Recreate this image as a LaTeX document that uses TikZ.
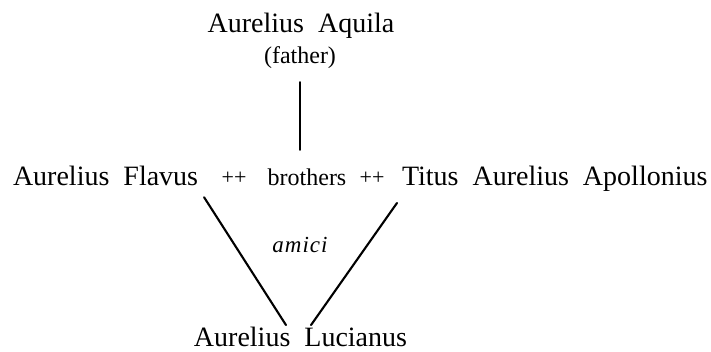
\documentclass[tikz,border=0pt]{standalone}
\usepackage{fontspec}
\setmainfont{Liberation Serif}
\begin{document}
\begin{tikzpicture}[x=1pt,y=1pt,
  person/.style={font=\fontsize{28}{30}\selectfont, inner sep=0pt, outer sep=0pt, anchor=base},
  note/.style={font=\fontsize{24}{26}\selectfont, inner sep=0pt, outer sep=0pt, anchor=base},
  plus/.style={font=\fontsize{22}{24}\selectfont, inner sep=0pt, outer sep=0pt, anchor=base},
  link/.style={line width=2.1pt, line cap=round}]
\useasboundingbox (0,0) rectangle (711,351);
% top
\node[person] (aquila) at (301,318) {Aurelius\ \ Aquila};
\node[note] (father) at (300,287.5) {(father)};
% middle row
\node[person, anchor=base west] (flavus) at (13,165) {Aurelius\ \ Flavus};
\node[plus] (p1) at (234,167) {++};
\node[note] (brothers) at (307,165) {brothers};
\node[plus] (p2) at (372,167) {++};
\node[person, anchor=base west] (titus) at (402,165) {Titus\ \ Aurelius\ \ Apollonius};
% bottom
\node[note, font=\fontsize{23}{25}\selectfont\itshape] (amici) at (300,99) {a\kern1pt m\kern1pt i\kern1pt c\kern1pt i};
\node[person] (lucianus) at (300.5,4.5) {Aurelius\ \ Lucianus};
% connectors
\draw[link] ([yshift=-13.5pt]father.south) -- ([xshift=-7pt,yshift=19.5pt]brothers.north);
\draw[link] ([xshift=6pt,yshift=-11pt]flavus.south east) -- ([xshift=-14.5pt,yshift=2pt]lucianus.north);
\draw[link] ([xshift=-5pt,yshift=-11pt]titus.south west) -- ([xshift=10.5pt,yshift=2pt]lucianus.north);
\end{tikzpicture}
\end{document}
